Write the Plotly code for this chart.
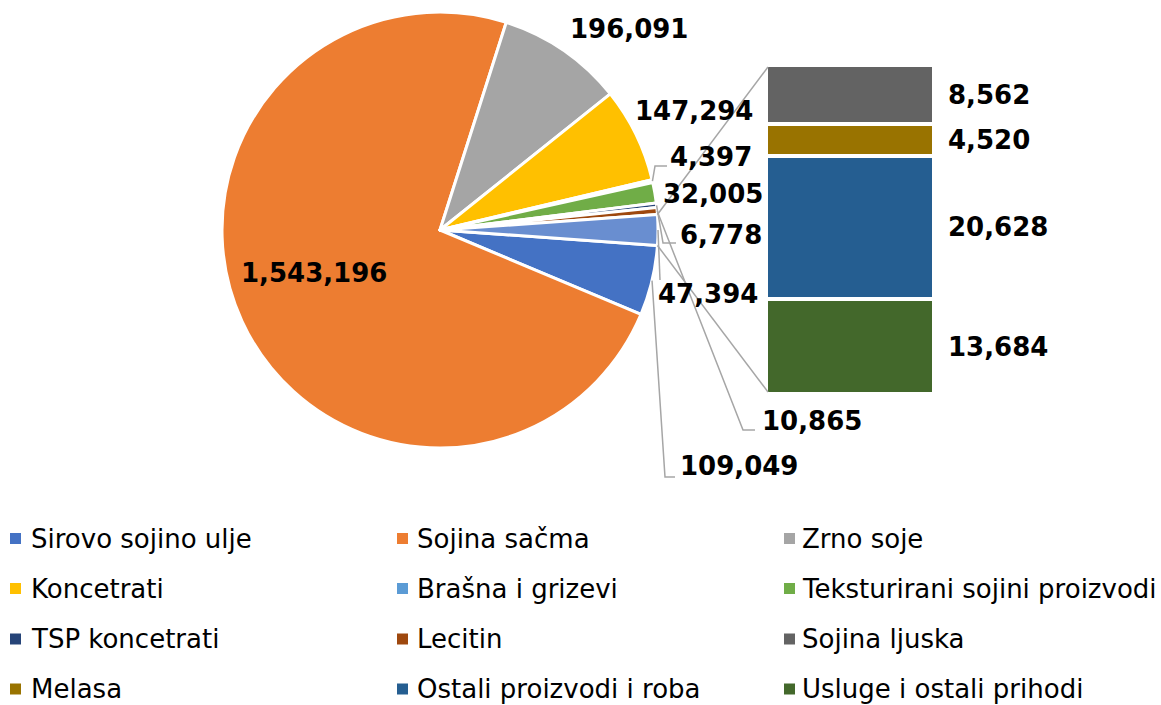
import math
import plotly.graph_objects as go

# ---------------- data ----------------
pie_labels = ["Sirovo sojino ulje", "Sojina sačma", "Zrno soje", "Koncetrati",
              "Brašna i grizevi", "Teksturirani sojini proizvodi", "TSP koncetrati", "Lecitin"]
pie_values = [109049, 1543196, 196091, 147294, 4397, 32005, 6778, 10865]
bar_labels = ["Sojina ljuska", "Melasa", "Ostali proizvodi i roba", "Usluge i ostali prihodi"]
bar_values = [8562, 4520, 20628, 13684]
pie_colors = ["#4472C4", "#ED7D31", "#A5A5A5", "#FFC000", "#5B9BD5", "#70AD47", "#264478", "#9E480E"]
bar_colors = ["#636363", "#997300", "#255E91", "#43682B"]
other_color = "#698ED0"

# ---------------- geometry / style ----------------
W, H = 1161, 705
CX, CY, R = 440, 230, 218          # pie centre / radius (px)
BX0, BX1, BY0, BY1 = 768, 932, 67, 392   # bar box (px)
LINE = "#A6A6A6"
FONT = "DejaVu Sans"
LBL = dict(family=FONT, size=26, color="black")
LEG_FONT = dict(family=FONT, size=26, color="black")
LEG_COL_X = [10, 397, 784]          # legend symbol left edge per column (px)
LEG_TEXT_X = [29, 415, 800]         # legend text anchor per column (px)
LEG_ROW_Y = [538.5, 588.5, 639, 689]  # legend row centre (px)
LEG_SYM = 11


def px(x, y):
    return x / W, 1 - y / H


other_total = sum(bar_values)
all_vals = pie_values + [other_total]
total = sum(all_vals)
deg = [v / total * 360 for v in all_vals]
other_deg = deg[-1]

# angles measured clockwise from east (screen)
starts = []
a = other_deg / 2
for d in deg[:-1]:
    starts.append(a)
    a += d
mids = [s + d / 2 for s, d in zip(starts, deg[:-1])]


def edge(theta):
    t = math.radians(theta)
    return CX + R * math.cos(t), CY + R * math.sin(t)


fig = go.Figure()

fig.add_trace(go.Pie(
    labels=pie_labels + ["Ostalo"], values=all_vals, sort=False,
    direction="clockwise", rotation=90 + other_deg / 2,
    marker=dict(colors=pie_colors + [other_color], line=dict(color="white", width=3)),
    textinfo="none", showlegend=False, hoverinfo="skip",
    domain=dict(x=[(CX - R) / W, (CX + R) / W], y=[1 - (CY + R) / H, 1 - (CY - R) / H]),
))

# stacked bar (bottom -> top)
for lab, val, col in reversed(list(zip(bar_labels, bar_values, bar_colors))):
    fig.add_trace(go.Bar(x=[0], y=[val], width=1, name=lab, showlegend=False, hoverinfo="skip",
                         marker=dict(color=col, line=dict(color="white", width=4))))

# ---------------- pie labels ----------------
label_pos = {   # index -> (left x, centre y)
    2: (568, 29), 3: (633, 111), 4: (668, 157), 5: (661, 194),
    6: (678, 235), 8: (656, 294), 7: (760, 421), 0: (678, 466),
}
annotations = []
for idx, (lx, ly) in label_pos.items():
    xx, yy = px(lx, ly)
    annotations.append(dict(x=xx, y=yy, xref="paper", yref="paper", xanchor="left",
                            yanchor="middle", showarrow=False,
                            text=f"<b>{all_vals[idx]:,}</b>", font=LBL))
xx, yy = px(314, 273)
annotations.append(dict(x=xx, y=yy, xref="paper", yref="paper", xanchor="center",
                        yanchor="middle", showarrow=False,
                        text=f"<b>{pie_values[1]:,}</b>", font=LBL))

# bar labels
cum = 0
for lab, val in reversed(list(zip(bar_labels, bar_values))):
    annotations.append(dict(x=0.5, y=cum + val / 2, xref="x", yref="y", xanchor="left",
                            yanchor="middle", xshift=12, showarrow=False,
                            text=f"<b>{val:,}</b>", font=LBL))
    cum += val

# leader lines
leaders = {
    0: [(665, 477), (675, 477)],
    4: [(655, 166), (667, 166)],
    6: [(663, 243), (676, 243)],
    7: [(743, 430), (755, 430)],
}
shapes = []


def path(points):
    s = ""
    for k, (x, y) in enumerate(points):
        u, v = px(x, y)
        s += ("M" if k == 0 else "L") + f"{u:.5f},{v:.5f}"
    return s


for idx, pts in leaders.items():
    shapes.append(dict(type="path", xref="paper", yref="paper",
                       path=path([edge(mids[idx])] + pts),
                       line=dict(color=LINE, width=1.5)))
shapes.append(dict(type="path", xref="paper", yref="paper",
                   path=path([edge(0), (660, 280)]), line=dict(color=LINE, width=1.5)))
# connectors pie -> bar
shapes.append(dict(type="path", xref="paper", yref="paper",
                   path=path([edge(-other_deg / 2), (BX0, BY0)]), line=dict(color=LINE, width=1.5)))
shapes.append(dict(type="path", xref="paper", yref="paper",
                   path=path([edge(other_deg / 2), (BX0, BY1)]), line=dict(color=LINE, width=1.5)))

# ---------------- legend (3 columns x 4 rows) ----------------
leg_labels = pie_labels + bar_labels
leg_colors = pie_colors + bar_colors
for i, (lab, col) in enumerate(zip(leg_labels, leg_colors)):
    sx = LEG_COL_X[i % 3]
    sy = LEG_ROW_Y[i // 3]
    x0, y0 = px(sx, sy - LEG_SYM / 2)
    x1, y1 = px(sx + LEG_SYM, sy + LEG_SYM / 2)
    shapes.append(dict(type="rect", xref="paper", yref="paper", x0=x0, x1=x1, y0=y1, y1=y0,
                       fillcolor=col, line=dict(width=0)))
    tx, ty = px(LEG_TEXT_X[i % 3], sy)
    annotations.append(dict(x=tx, y=ty, xref="paper", yref="paper", xanchor="left",
                            yanchor="middle", showarrow=False, text=lab, font=LEG_FONT))

fig.update_layout(
    width=W, height=H, margin=dict(l=0, r=0, t=0, b=0),
    paper_bgcolor="white", plot_bgcolor="white", hovermode=False, showlegend=False,
    barmode="stack", bargap=0,
    xaxis=dict(domain=[(BX0 - 2) / W, (BX1 + 2) / W], range=[-0.5, 0.5], visible=False, fixedrange=True),
    yaxis=dict(domain=[1 - (BY1 + 2) / H, 1 - (BY0 - 2) / H], range=[0, other_total], visible=False, fixedrange=True),
    annotations=annotations, shapes=shapes,
)

fig.write_html("out.html", config={"displayModeBar": False},
               post_script="document.body.style.margin='0px';")
